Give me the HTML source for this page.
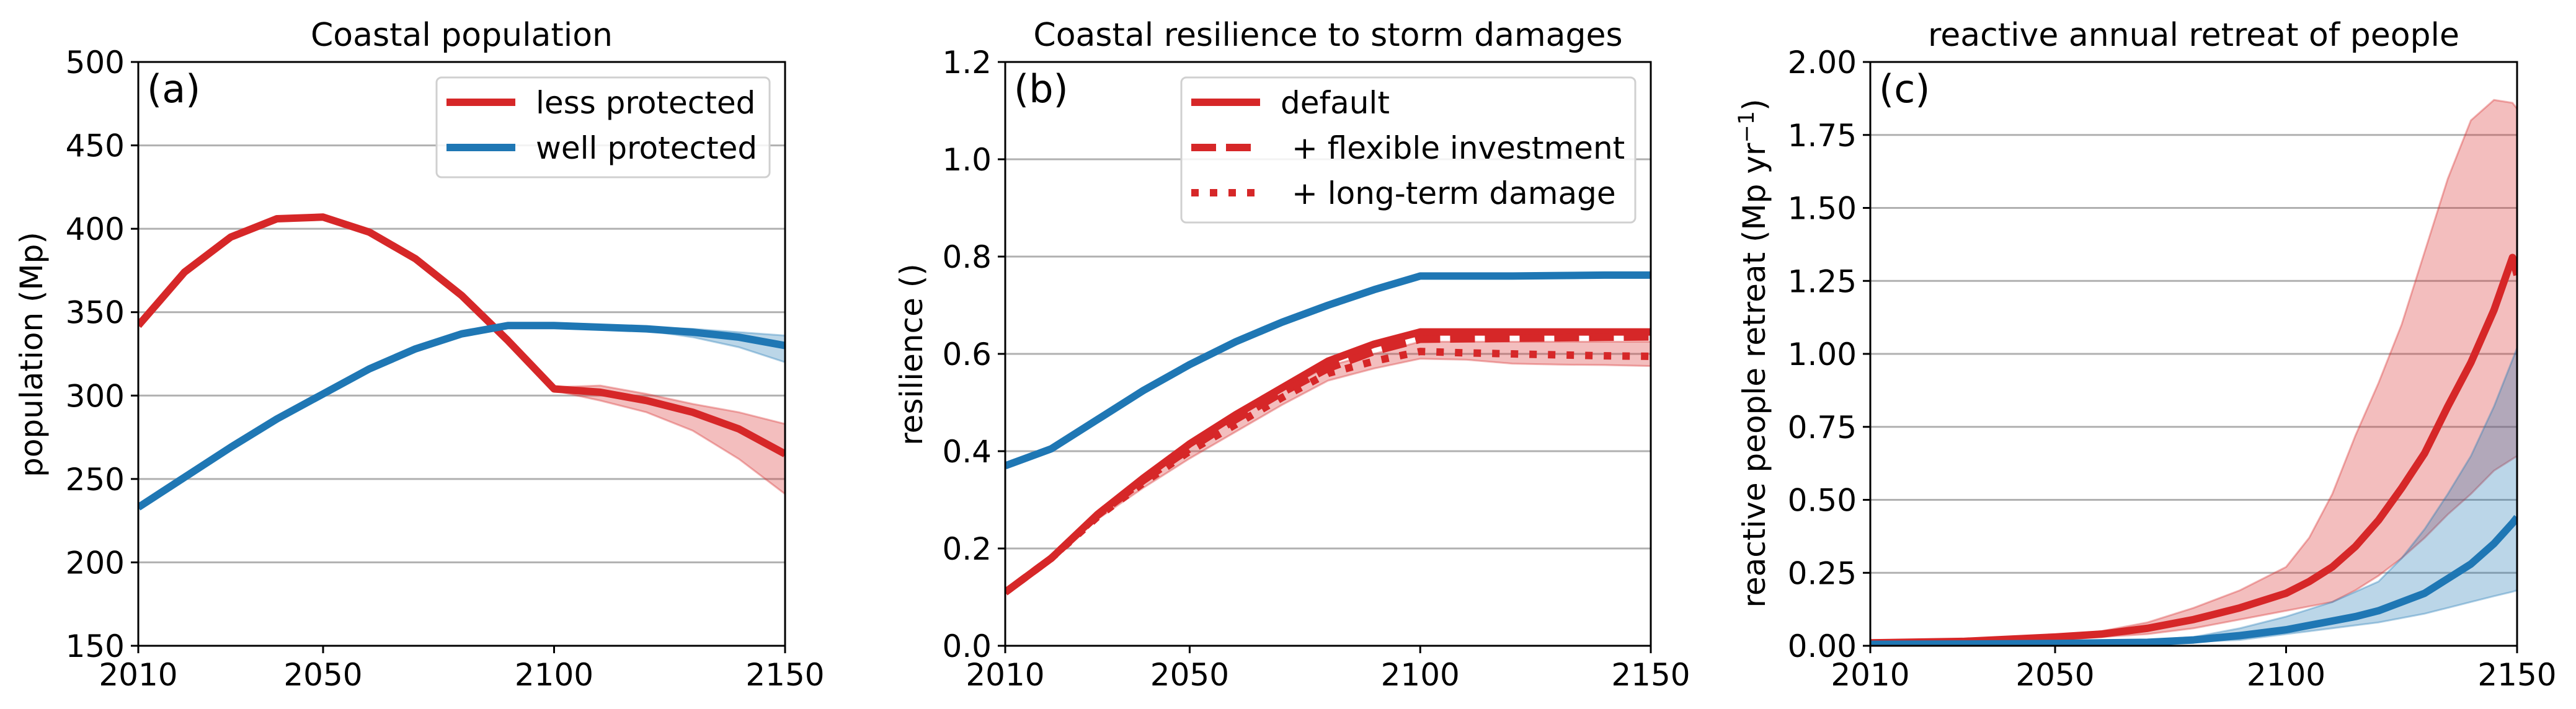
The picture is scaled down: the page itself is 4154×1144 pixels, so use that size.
<!DOCTYPE html>
<html><head><meta charset="utf-8"><style>
html,body{margin:0;padding:0;background:#fff}
svg{display:block}
text{font-family:"DejaVu Sans","Liberation Sans",sans-serif;fill:#000}
</style></head><body>
<svg id="fig" width="4154" height="1144" viewBox="0 0 4154 1144" xmlns="http://www.w3.org/2000/svg"></svg>
<script>
// ---- Panel (a) data ----
const aYears = [2010,2020,2030,2040,2050,2060,2070,2080,2090,2100,2110,2120,2130,2140,2150];
const aLess = [342,374,395,406,407,398,382,360,333,304,302,297,290,280,265];
const aWell = [233,251,269,286,301,316,328,337,342,342,341,340,338,335,330];
const aBandYears = [2100,2110,2120,2130,2140,2150];
const aLessHi = [305,306,301,295,290,283];
const aLessLo = [303,297,290,279,262,241];
const aWellBandYears = [2100,2110,2120,2130,2140,2150];
const aWellHi = [343,342,341,340,338,336];
const aWellLo = [341,340,339,335,329,320];
const aTicks = [150,200,250,300,350,400,450,500];
// ---- Panel (b) data ----
const bYears = [2010,2020,2030,2040,2050,2060,2070,2080,2090,2100,2110,2120,2130,2140,2150];
const bWell = [0.37,0.405,0.465,0.525,0.578,0.625,0.665,0.7,0.732,0.76,0.76,0.76,0.761,0.762,0.762];
const bDefault = [0.11,0.18,0.27,0.345,0.415,0.475,0.53,0.585,0.62,0.645,0.645,0.645,0.645,0.645,0.645];
const bFlex = [0.11,0.18,0.268,0.34,0.405,0.465,0.52,0.57,0.605,0.63,0.631,0.632,0.633,0.634,0.635];
const bLong = [0.11,0.18,0.265,0.335,0.4,0.455,0.51,0.56,0.585,0.605,0.602,0.6,0.598,0.596,0.595];
const bBandHi = [0.11,0.18,0.27,0.345,0.41,0.47,0.525,0.575,0.6,0.625,0.625,0.625,0.625,0.625,0.625];
const bBandLo = [0.11,0.175,0.26,0.325,0.385,0.44,0.495,0.545,0.57,0.59,0.588,0.58,0.578,0.577,0.575];
const bTicks = [0,0.2,0.4,0.6,0.8,1.0,1.2];
// ---- Panel (c) data ----
const cYears = [2010,2030,2050,2060,2070,2080,2090,2100,2105,2110,2115,2120,2125,2130,2135,2140,2145,2149,2150];
const cLess = [0.01,0.015,0.03,0.04,0.06,0.09,0.13,0.18,0.22,0.27,0.34,0.43,0.54,0.66,0.82,0.97,1.15,1.33,1.27];
const cLessHi = [0.012,0.02,0.035,0.05,0.08,0.13,0.19,0.27,0.37,0.52,0.72,0.9,1.1,1.35,1.6,1.8,1.87,1.86,1.84];
const cLessLo = [0.008,0.012,0.02,0.03,0.04,0.06,0.09,0.12,0.135,0.15,0.19,0.24,0.3,0.37,0.45,0.52,0.6,0.64,0.65];
const cWell = [0.005,0.006,0.008,0.01,0.012,0.02,0.035,0.055,0.07,0.085,0.1,0.12,0.15,0.18,0.23,0.28,0.35,0.42,0.44];
const cWellHi = [0.006,0.008,0.01,0.015,0.02,0.03,0.06,0.1,0.125,0.15,0.185,0.22,0.3,0.4,0.52,0.65,0.82,0.98,1.02];
const cWellLo = [0.004,0.005,0.006,0.008,0.01,0.014,0.02,0.04,0.05,0.06,0.07,0.08,0.095,0.11,0.13,0.15,0.17,0.185,0.19];
const cTicks = [0,0.25,0.5,0.75,1.0,1.25,1.5,1.75,2.0];
const xTicks = [2010,2050,2100,2150];

const RED='#d62728', BLUE='#1f77b4', NS='http://www.w3.org/2000/svg';
const svg=document.getElementById('fig');
function el(tag,attrs,parent){const e=document.createElementNS(NS,tag);for(const k in attrs)e.setAttribute(k,attrs[k]);(parent||svg).appendChild(e);return e;}

function panel(o){
  const g=el('g',{});
  
  
  const T=100,B=1042;
  const sx=v=>o.L+(v-2010)/(140)*(o.R-o.L);
  const sy=v=>B-(v-o.ymin)/(o.ymax-o.ymin)*(B-T);
  o.ticks.forEach((t,i)=>{
    if(t!==o.ymin && t!==o.ymax){const gl=el('line',{x1:o.L,x2:o.R,y1:sy(t),y2:sy(t),stroke:'#b0b0b0','stroke-width':3},g);
    
    }
    const tk=el('line',{x1:o.L-12,x2:o.L,y1:sy(t),y2:sy(t),stroke:'#000','stroke-width':3},g);
    
    
    const tl=el('text',{x:o.L-22,y:sy(t)+18,'font-size':50,'text-anchor':'end'},g);
    tl.textContent=o.tickLabels[i];
    
    
  });
  xTicks.forEach(t=>{
    const tk=el('line',{x1:sx(t),x2:sx(t),y1:B,y2:B+12,stroke:'#000','stroke-width':3},g);
    
    
    const tl=el('text',{x:sx(t),y:B+64,'font-size':50,'text-anchor':'middle'},g);
    tl.textContent=t;
    
    
  });
  const clip=el('clipPath',{id:'clip-'+o.name},g);
  el('rect',{x:o.L,y:T,width:o.R-o.L,height:B-T},clip);
  const plot=el('g',{'clip-path':'url(#clip-'+o.name+')'},g);
  o.bands.forEach(b=>{
    let d='M'+b.x.map((x,i)=>sx(x)+','+sy(b.hi[i])).join('L');
    d+='L'+b.x.map((x,i)=>sx(x)+','+sy(b.lo[i])).reverse().join('L')+'Z';
    const p=el('path',{d:d,fill:b.color,'fill-opacity':0.3,stroke:b.color,'stroke-opacity':0.35,'stroke-width':3},plot);
    
    
  });
  o.lines.forEach(l=>{
    const d='M'+l.x.map((x,i)=>sx(x)+','+sy(l.y[i])).join('L');
    const p=el('path',{d:d,fill:'none',stroke:l.color,'stroke-width':12,'stroke-linejoin':'round'},plot);
    if(l.dash)p.setAttribute('stroke-dasharray',l.dash);
    
    
  });
  const fr=el('rect',{x:o.L,y:T,width:o.R-o.L,height:B-T,fill:'none',stroke:'#000','stroke-width':3},g);
  
  
  const ti=el('text',{x:(o.L+o.R)/2,y:74,'font-size':52,'text-anchor':'middle'},g);
  ti.textContent=o.title;
  
  
  const pl=el('text',{x:o.L+14,y:165,'font-size':62},g);
  pl.textContent=o.label;
  
  
  const yl=el('text',{x:0,y:0,'font-size':50,'text-anchor':'middle',transform:'translate('+o.ylx+','+o.yly+') rotate(-90)'},g);
  yl.innerHTML=o.ylabel;
  
  
  return g;
}

panel({name:'panel-a-population',L:223,R:1266,ymin:150,ymax:500,ticks:aTicks,tickLabels:aTicks.map(String),
  title:'Coastal population',label:'(a)',ylabel:'population (Mp)',ylx:68,yly:572,
  bands:[{name:'less-protected-band',x:aBandYears,hi:aLessHi,lo:aLessLo,color:RED},
         {name:'well-protected-band',x:aWellBandYears,hi:aWellHi,lo:aWellLo,color:BLUE}],
  lines:[{name:'less-protected-line',x:aYears,y:aLess,color:RED},{name:'well-protected-line',x:aYears,y:aWell,color:BLUE}]});
panel({name:'panel-b-resilience',L:1621,R:2662,ymin:0,ymax:1.2,ticks:bTicks,tickLabels:bTicks.map(v=>v.toFixed(1)),
  title:'Coastal resilience to storm damages',label:'(b)',ylabel:'resilience ()',ylx:1487,yly:572,
  bands:[{name:'long-term-damage-band',x:bYears,hi:bBandHi,lo:bBandLo,color:RED}],
  lines:[{name:'well-protected-line',x:bYears,y:bWell,color:BLUE},
         {name:'default-line',x:bYears,y:bDefault,color:RED},
         {name:'flexible-investment-line',x:bYears,y:bFlex,color:RED,dash:'40,16'},
         {name:'long-term-damage-line',x:bYears,y:bLong,color:RED,dash:'12,18'}]});
panel({name:'panel-c-retreat',L:3016,R:4059,ymin:0,ymax:2,ticks:cTicks,tickLabels:cTicks.map(v=>v.toFixed(2)),
  title:'reactive annual retreat of people',label:'(c)',ylabel:'reactive people retreat (Mp yr<tspan dy="-18" font-size="35">−1</tspan><tspan dy="18">)</tspan>',ylx:2846,yly:570,
  bands:[{name:'less-protected-band',x:cYears,hi:cLessHi,lo:cLessLo,color:RED},
         {name:'well-protected-band',x:cYears,hi:cWellHi,lo:cWellLo,color:BLUE}],
  lines:[{name:'less-protected-line',x:cYears,y:cLess,color:RED},{name:'well-protected-line',x:cYears,y:cWell,color:BLUE}]});

function legend(name,x,y,w,h,items){
  const g=el('g',{});
  
  
  el('rect',{x:x,y:y,width:w,height:h,rx:8,fill:'#fff','fill-opacity':0.85,stroke:'#d0d0d0','stroke-width':3},g);
  items.forEach((it,i)=>{
    const yy=y+40+i*73;
    const ln=el('line',{x1:x+16,x2:x+127,y1:yy,y2:yy,stroke:RED,'stroke-width':12},g);
    ln.setAttribute('stroke',it.color);
    if(it.dash)ln.setAttribute('stroke-dasharray',it.dash);
    
    
    const t=el('text',{x:x+it.tx,y:yy+18,'font-size':50},g);
    t.textContent=it.text;
    
    
  });
}
legend('legend-a',704,125,537,161,[{text:'less protected',color:RED,tx:160},{text:'well protected',color:BLUE,tx:160}]);
legend('legend-b',1905,125,732,234,[{text:'default',color:RED,tx:160},{text:'+ flexible investment',color:RED,dash:'40,16',tx:178},{text:'+ long-term damage',color:RED,dash:'12,18',tx:178}]);
</script>
</body></html>
